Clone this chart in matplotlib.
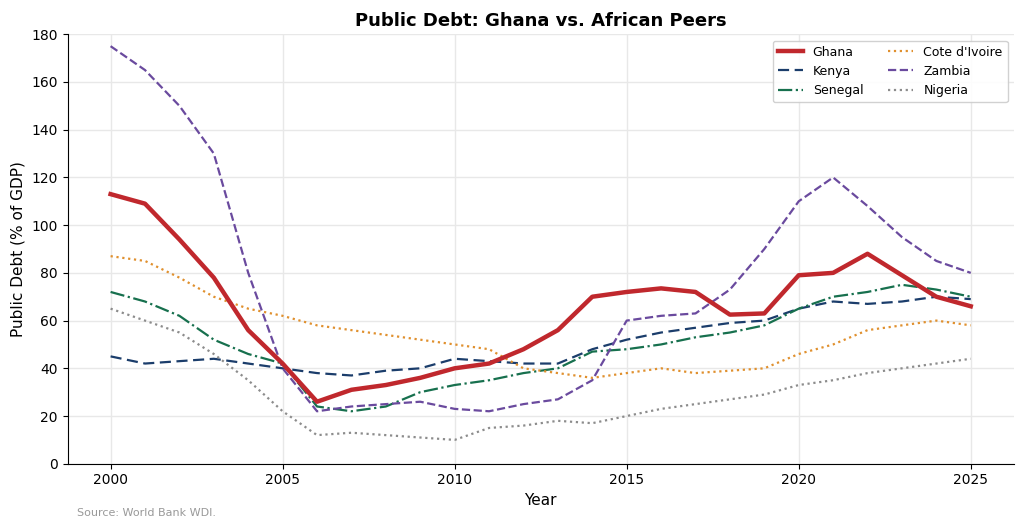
import matplotlib
matplotlib.use("Agg")
import matplotlib.pyplot as plt

years = list(range(2000, 2026))
ghana = [113, 109, 94, 78, 56, 42, 26, 31, 33, 36, 40, 42, 48, 56, 70, 72, 73.5, 72, 62.5, 63, 79, 80, 88, 79, 70, 66]
kenya = [45, 42, 43, 44, 42, 40, 38, 37, 39, 40, 44, 43, 42, 42, 48, 52, 55, 57, 59, 60, 65, 68, 67, 68, 70, 69]
senegal = [72, 68, 62, 52, 46, 42, 24, 22, 24, 30, 33, 35, 38, 40, 47, 48, 50, 53, 55, 58, 65, 70, 72, 75, 73, 70]
cote = [87, 85, 78, 70, 65, 62, 58, 56, 54, 52, 50, 48, 40, 38, 36, 38, 40, 38, 39, 40, 46, 50, 56, 58, 60, 58]
zambia = [175, 165, 150, 130, 80, 40, 22, 24, 25, 26, 23, 22, 25, 27, 35, 60, 62, 63, 73, 90, 110, 120, 108, 95, 85, 80]
nigeria = [65, 60, 55, 46, 35, 22, 12, 13, 12, 11, 10, 15, 16, 18, 17, 20, 23, 25, 27, 29, 33, 35, 38, 40, 42, 44]

fig, ax = plt.subplots(figsize=(10.24, 5.27), dpi=100)

ax.plot(years, ghana, color="#c0282d", lw=3.2, label="Ghana", zorder=5)
ax.plot(years, kenya, color="#1b3d6b", lw=1.6, ls=(0, (5, 2.5)), label="Kenya")
ax.plot(years, senegal, color="#17704e", lw=1.6, ls="-.", label="Senegal")
ax.plot(years, cote, color="#e0902e", lw=1.6, ls=":", label="Cote d'Ivoire")
ax.plot(years, zambia, color="#6a4a9e", lw=1.6, ls="--", label="Zambia")
ax.plot(years, nigeria, color="#8c8c8c", lw=1.6, ls=":", label="Nigeria")

ax.set_ylim(0, 180)
ax.set_yticks(range(0, 181, 20))
ax.set_xticks(range(2000, 2026, 5))
ax.grid(True, color="#e8e8e8", lw=1)
ax.set_axisbelow(True)
for s in ["top", "right"]:
    ax.spines[s].set_visible(False)

ax.set_title("Public Debt: Ghana vs. African Peers", fontsize=13, fontweight="bold")
ax.set_xlabel("Year", fontsize=11)
ax.set_ylabel("Public Debt (% of GDP)", fontsize=11)
ax.legend(ncol=2, loc="upper right", fontsize=9, framealpha=0.9)

fig.text(0.075, 0.02, "Source: World Bank WDI.", fontsize=8, color="#999999")
plt.subplots_adjust(left=0.066, right=0.99, top=0.935, bottom=0.12)
plt.savefig("out.png")
